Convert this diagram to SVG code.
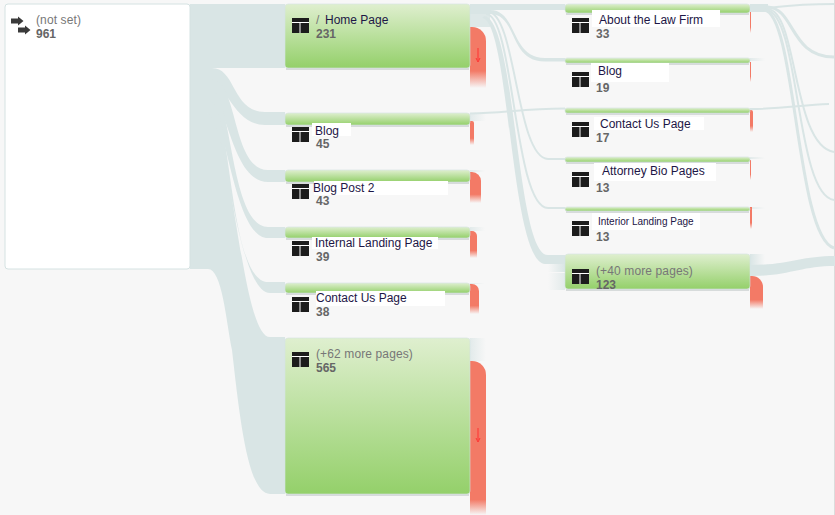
<svg xmlns="http://www.w3.org/2000/svg" width="835" height="515" viewBox="0 0 835 515">
<defs>
<linearGradient id="g" x1="0" y1="0" x2="0" y2="1"><stop offset="0" stop-color="#dfefcf"/><stop offset="1" stop-color="#94d06a"/></linearGradient>
<linearGradient id="r" x1="0" y1="0" x2="0" y2="1"><stop offset="0" stop-color="#f37a66"/><stop offset=".72" stop-color="#f37a66"/><stop offset="1" stop-color="#f37a66" stop-opacity="0"/></linearGradient>
<linearGradient id="rl" x1="0" y1="0" x2="0" y2="1"><stop offset="0" stop-color="#f37a66"/><stop offset=".9" stop-color="#f37a66"/><stop offset="1" stop-color="#f37a66" stop-opacity="0"/></linearGradient>
<linearGradient id="f" x1="0" y1="0" x2="1" y2="0"><stop offset="0" stop-color="#d9e5e5"/><stop offset="1" stop-color="#d9e5e5" stop-opacity="0"/></linearGradient>
<linearGradient id="fb" x1="1" y1="0" x2="0" y2="0"><stop offset="0" stop-color="#d9e5e5"/><stop offset="1" stop-color="#d9e5e5" stop-opacity="0"/></linearGradient>
<g id="ic"><rect width="17" height="15" fill="#1c1c1c"/><path d="M0 4.5H17M8 4.5V15" stroke="#fff" stroke-width="1" fill="none"/></g>
<g id="arrow"><path d="M0 -2.5H7V-4.5L12.5 0L7 4.500V2.500H0Z" fill="#3a3a3a"/></g>
<path id="dn" d="M0 0V12M-2 10L0 14L2 10" stroke="#f33" stroke-width="1" fill="none"/>
</defs>
<style>
.bg{fill:#f7f7f7}
.fl{fill:#d9e5e5}
.ln{fill:none;stroke:#d9e5e5;stroke-width:2}
.n{fill:url(#g);stroke:#d5e2e2;stroke-width:.6}
.sh{fill:#c9cfcf;opacity:.7}
.box{fill:#fff}
.t{font:12px "Liberation Sans",Arial,sans-serif;fill:#1d1646}
.g{font:12px "Liberation Sans",Arial,sans-serif;fill:#777;letter-spacing:.12px}
.c{font:bold 12px "Liberation Sans",Arial,sans-serif;fill:#666}
.rd{fill:url(#r)}
.st{fill:url(#f);opacity:.7}
</style>
<rect class="bg" width="835" height="515"/>
<rect x="834" width="1" height="515" fill="#dcdcdc"/>
<g id="connectors">
<path class="fl" d="M190 4H285V68H190Z"/>
<path class="fl" d="M190 68H212C236 68 232 112 265 112H285V125H265C232 125 228 80 205 80H190Z"/>
<path class="fl" d="M190 79.500H212C238 79.500 232 170 268 170H285V182H268C230 182 228 92 205 92H190Z"/>
<path class="fl" d="M190 91.500H212C232 91.500 230 227 268 227H285V238H268C232 238 226 102 205 102H190Z"/>
<path class="fl" d="M190 101.500H210C232 101.500 228 282 268 282H285V293H270C236 293 226 113 205 113H190Z"/>
<path class="fl" d="M190 112.500H205C232 112.500 240 337 270 337H285V494H270C248 494 240 420 232 350C226 320 222 269 208 269H190Z"/>
<rect x="470" y="4" width="95" height="6" class="fl"/>
<rect x="470" y="10" width="20" height="17" class="fl" opacity=".85"/>
<path class="fl" d="M470 10H490C518 10 510 58 545 58H565V61.500H545C508 61.500 518 14 490 14H470Z"/>
<path class="ln" d="M488 12C516 12 516 158 548 159H565"/>
<path class="ln" d="M486 14C514 14 514 208 548 208H565"/>
<path class="fl" d="M484 16C516 18 516 255 548 255H565V264H545C510 262 510 20 482 18Z"/>
<rect x="548" y="264" width="17" height="8" fill="url(#fb)"/>
<rect x="548" y="273" width="17" height="17" fill="url(#fb)" opacity=".7"/>
<path class="ln" d="M470 113.500C505 113.500 520 108.500 565 108.500"/>
<rect class="st" x="470" y="114" width="16" height="7"/>
<rect class="st" x="470" y="170" width="15" height="2"/>
<rect class="st" x="470" y="227" width="15" height="4"/>
<rect class="st" x="470" y="283" width="15" height="1"/>
<rect class="st" x="470" y="338" width="16" height="23"/>
<rect x="750" y="254" width="15" height="11" fill="url(#f)"/>
<path class="fl" d="M750 265C790 265 800 256 835 256V266C800 266 790 276 750 276Z"/>
<rect x="750" y="4" width="18" height="8" class="fl"/>
<path class="ln" d="M766 8C785 6 800 4 834 4"/>
<path class="ln" style="stroke-width:3" d="M768 7C795 9 790 57 834 57"/>
<path class="ln" d="M768 9C798 12 792 145 834 152"/>
<path class="ln" d="M766 10C800 12 795 195 834 200"/>
<path class="ln" style="stroke-width:3" d="M764 10C796 12 796 238 834 248"/>
<path class="ln" d="M750 109C785 109 800 105 829 104"/>
<rect class="st" x="750" y="58" width="15" height="3"/>
<rect class="st" x="750" y="157" width="15" height="2"/>
<rect class="st" x="750" y="207" width="15" height="2"/>
</g>
<g id="not-set">
<rect x="5" y="4" width="185" height="265" rx="3" fill="#fff" stroke="#d5e2e2"/>
<use href="#arrow" x="11" y="21"/><use href="#arrow" x="18" y="30"/>
<text class="g" x="36" y="24">(not set)</text><text class="c" x="36" y="38">961</text>
</g>
<g id="home">
<path class="rd" d="M470 27H472A14 14 0 0 1 486 41V88H470Z"/>
<use href="#dn" x="478" y="48"/>
<rect class="sh" x="286" y="68" width="183" height="2"/>
<rect class="n" x="285" y="4" width="185" height="64" rx="3"/>
<use href="#ic" x="292" y="18"/>
<text class="g" x="316" y="24">/</text><text class="t" x="325" y="24">Home Page</text><text class="c" x="316" y="38">231</text>
</g>
<g id="blog">
<path class="rd" d="M470 121H472A2 2 0 0 1 474 123V145H470Z"/>
<rect class="sh" x="286" y="125" width="183" height="2"/>
<rect class="n" x="285" y="113" width="185" height="12" rx="3"/>
<use href="#ic" x="292" y="127"/>
<rect class="box" x="312" y="123" width="39" height="13"/>
<text class="t" x="315" y="135">Blog</text><text class="c" x="316" y="148">45</text>
</g>
<g id="blog-post-2">
<path class="rd" d="M470 172H472A9 9 0 0 1 481 181V203H470Z"/>
<rect class="sh" x="286" y="182" width="183" height="2"/>
<rect class="n" x="285" y="170" width="185" height="12" rx="3"/>
<use href="#ic" x="292" y="184"/>
<rect class="box" x="314" y="181" width="134" height="14"/>
<text class="t" x="313" y="192">Blog Post 2</text><text class="c" x="316" y="205">43</text>
</g>
<g id="internal-landing">
<path class="rd" d="M470 231H472A5 5 0 0 1 477 236V258H470Z"/>
<rect class="sh" x="286" y="238" width="183" height="2"/>
<rect class="n" x="285" y="227" width="185" height="11" rx="3"/>
<use href="#ic" x="292" y="241"/>
<rect class="box" x="312" y="237" width="126" height="12"/>
<text class="t" x="315" y="247">Internal Landing Page</text><text class="c" x="316" y="261">39</text>
</g>
<g id="contact">
<path class="rd" d="M470 284H472A7 7 0 0 1 479 291V314H470Z"/>
<rect class="sh" x="286" y="293" width="183" height="2"/>
<rect class="n" x="285" y="283" width="185" height="10" rx="3"/>
<use href="#ic" x="292" y="297"/>
<rect class="box" x="316" y="291" width="129" height="15"/>
<text class="t" x="316" y="302">Contact Us Page</text><text class="c" x="316" y="316">38</text>
</g>
<g id="more-62">
<path fill="url(#rl)" d="M470 361H472A14 14 0 0 1 486 375V515H470Z"/>
<use href="#dn" x="478" y="428"/>
<rect class="sh" x="286" y="494" width="183" height="2"/>
<rect class="n" x="285" y="338" width="185" height="156" rx="3"/>
<use href="#ic" x="292" y="352"/>
<text class="g" x="316" y="358">(+62 more pages)</text><text class="c" x="316" y="372">565</text>
</g>
<g id="about">
<path class="rd" d="M750 12H751V33H750Z"/>
<rect class="sh" x="566" y="13" width="183" height="2"/>
<rect class="n" x="565" y="4" width="185" height="9" rx="3"/>
<use href="#ic" x="572" y="18"/>
<rect class="box" x="592" y="10" width="128" height="17"/>
<text class="t" x="599" y="24">About the Law Firm</text><text class="c" x="596" y="38">33</text>
</g>
<g id="blog-3">
<path class="rd" d="M750 62H751V82H750Z"/>
<rect class="sh" x="566" y="63" width="183" height="2"/>
<rect class="n" x="565" y="58" width="185" height="5" rx="2"/>
<use href="#ic" x="572" y="72"/>
<rect class="box" x="591" y="63" width="78" height="19"/>
<text class="t" x="598" y="75">Blog</text><text class="c" x="596" y="92">19</text>
</g>
<g id="contact-3">
<path class="rd" d="M750 110H751A2 2 0 0 1 753 112V132H750Z"/>
<rect class="sh" x="566" y="113" width="183" height="2"/>
<rect class="n" x="565" y="108" width="185" height="5" rx="2"/>
<use href="#ic" x="572" y="122"/>
<rect class="box" x="594" y="117" width="110" height="13"/>
<text class="t" x="600" y="128">Contact Us Page</text><text class="c" x="596" y="142">17</text>
</g>
<g id="attorney">
<path class="rd" d="M750 160H751V180H750Z"/>
<rect class="sh" x="566" y="162" width="183" height="2"/>
<rect class="n" x="565" y="157" width="185" height="5" rx="2"/>
<use href="#ic" x="572" y="172"/>
<rect class="box" x="594" y="163" width="122" height="18"/>
<text class="t" x="602" y="175">Attorney Bio Pages</text><text class="c" x="596" y="192">13</text>
</g>
<g id="interior">
<path class="rd" d="M750 207H752V229H750Z"/>
<rect class="sh" x="566" y="211" width="183" height="2"/>
<rect class="n" x="565" y="207" width="185" height="4" rx="2"/>
<use href="#ic" x="572" y="221"/>
<rect class="box" x="592" y="213" width="108" height="17"/>
<text class="t" x="598" y="225" style="font-size:10px">Interior Landing Page</text><text class="c" x="596" y="241">13</text>
</g>
<g id="more-40">
<path class="rd" d="M750 276H752A11 11 0 0 1 763 287V309H750Z"/>
<rect class="sh" x="566" y="289" width="183" height="2"/>
<rect class="n" x="565" y="254" width="185" height="35" rx="3"/>
<use href="#ic" x="572" y="269"/>
<text class="g" x="596" y="275">(+40 more pages)</text><text class="c" x="596" y="289">123</text>
</g>
</svg>
